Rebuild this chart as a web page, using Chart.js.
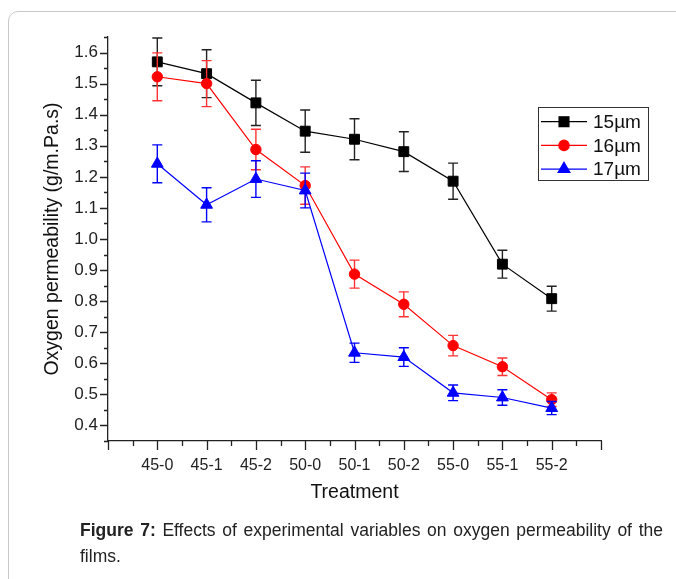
<!DOCTYPE html>
<html>
<head>
<meta charset="utf-8">
<script src="https://cdn.jsdelivr.net/npm/chart.js@4.4.0/dist/chart.umd.min.js"></script>
<style>
html,body{margin:0;padding:0;background:#fff;overflow:hidden;width:676px;height:579px;}
#frame{position:absolute;left:8px;top:11px;width:720px;height:620px;border:1px solid #c9c9c9;border-radius:10px;box-sizing:border-box;}
#wrap{position:absolute;left:0;top:0;width:676px;height:579px;}
.cap{position:absolute;left:80px;width:583px;font-family:"Liberation Sans",Arial,sans-serif;font-size:17.5px;line-height:20px;color:#222;}
#cap1{top:520px;text-align:justify;text-align-last:justify;}
#cap2{top:546px;}
</style>
</head>
<body>
<div id="frame"></div>
<div id="wrap"><canvas id="c" width="676" height="579"></canvas></div>
<div class="cap" id="cap1"><b>Figure 7:</b> Effects of experimental variables on oxygen permeability of the</div>
<div class="cap" id="cap2">films.</div>
<script>
// ---- data ----
const categories = ['45-0','45-1','45-2','50-0','50-1','50-2','55-0','55-1','55-2'];
const seriesNames = ['15µm','16µm','17µm'];
const values15 = [1.570, 1.532, 1.438, 1.347, 1.321, 1.281, 1.186, 0.919, 0.808];
const errors15 = [0.077, 0.077, 0.073, 0.068, 0.066, 0.064, 0.058, 0.045, 0.040];
const values16 = [1.522, 1.500, 1.288, 1.172, 0.887, 0.790, 0.657, 0.589, 0.483];
const errors16 = [0.077, 0.074, 0.065, 0.060, 0.045, 0.040, 0.033, 0.028, 0.022];
const values17 = [1.242, 1.110, 1.193, 1.156, 0.634, 0.620, 0.505, 0.490, 0.456];
const errors17 = [0.061, 0.055, 0.059, 0.056, 0.031, 0.030, 0.025, 0.025, 0.021];
const yTickLabels = ['0.4','0.5','0.6','0.7','0.8','0.9','1.0','1.1','1.2','1.3','1.4','1.5','1.6'];

const FONT = '"Liberation Sans", Arial, sans-serif';
Chart.defaults.font.family = FONT;

function pts(vals){ return vals.map((v,i)=>({x:i+1, y:v})); }

const errPlugin = {
  id:'errbars',
  beforeDatasetDraw(chart, args){
    const ds = chart.data.datasets[args.index];
    const ys = chart.scales.y, ctx = chart.ctx;
    ctx.save();
    ctx.strokeStyle = ds.errColor; ctx.lineWidth = 1.4;
    args.meta.data.forEach((pt,i)=>{
      const v = ds.data[i].y, e = ds.err[i];
      const yt = ys.getPixelForValue(v+e), yb = ys.getPixelForValue(v-e);
      const x = pt.x;
      ctx.beginPath();
      ctx.moveTo(x,yt); ctx.lineTo(x,yb);
      ctx.moveTo(x-5,yt); ctx.lineTo(x+5,yt);
      ctx.moveTo(x-5,yb); ctx.lineTo(x+5,yb);
      ctx.stroke();
    });
    ctx.restore();
  }
};

const tickPlugin = {
  id:'ticksLegend',
  afterDraw(chart){
    const {ctx, scales:{x, y}, chartArea:a} = chart;
    ctx.save();
    ctx.strokeStyle = '#222'; ctx.lineWidth = 1.3;
    ctx.beginPath();
    y.ticks.forEach(t=>{
      const p = Math.round(y.getPixelForValue(t.value))+0.5;
      const major = Math.round(t.value*100)%10===0;
      const len = major?8:4;
      ctx.moveTo(a.left-len,p); ctx.lineTo(a.left,p);
    });
    x.ticks.forEach(t=>{
      const p = Math.round(x.getPixelForValue(t.value))+0.5;
      const major = Math.abs(t.value-Math.round(t.value))<1e-6;
      const len = major?9:5;
      ctx.moveTo(p,a.bottom); ctx.lineTo(p,a.bottom+len);
    });
    ctx.stroke();
    // legend
    ctx.lineWidth = 1; ctx.strokeStyle = '#333';
    ctx.strokeRect(538.5, 107.5, 110, 73);
    ctx.font = '19px ' + FONT;
    ctx.textBaseline = 'middle'; ctx.textAlign = 'left';
    chart.data.datasets.forEach((ds,i)=>{
      const cy = 121.7 + i*23.7;
      ctx.strokeStyle = ds.borderColor; ctx.lineWidth = 1.2;
      ctx.beginPath(); ctx.moveTo(541,cy); ctx.lineTo(587,cy); ctx.stroke();
      ctx.fillStyle = ds.backgroundColor; ctx.strokeStyle = ds.borderColor;
      Chart.helpers.drawPoint(ctx, {pointStyle:ds.pointStyle, radius:ds.pointRadius, borderWidth:1, rotation:0}, 564, cy);
      ctx.fillStyle = '#111';
      ctx.fillText(ds.label, 593, cy+1);
    });
    ctx.restore();
  }
};

new Chart(document.getElementById('c'), {
  type:'line',
  data:{
    datasets:[
      {label:seriesNames[0], data:pts(values15), err:errors15, errColor:'#222', borderColor:'#000', backgroundColor:'#000', pointStyle:'rect', pointRadius:7, pointBorderWidth:1, borderWidth:1.2, order:2},
      {label:seriesNames[1], data:pts(values16), err:errors16, errColor:'#f33', borderColor:'#ff0000', backgroundColor:'#ff0000', pointStyle:'circle', pointRadius:5.2, pointBorderWidth:1, borderWidth:1.2, order:1},
      {label:seriesNames[2], data:pts(values17), err:errors17, errColor:'#0000ff', borderColor:'#0000ff', backgroundColor:'#0000ff', pointStyle:'triangle', pointRadius:6.8, pointBorderWidth:1, borderWidth:1.2, order:0}
    ]
  },
  options:{
    responsive:false, animation:false,
    layout:{padding:{left:0, top:37, right:75, bottom:0}},
    plugins:{legend:{display:false}, tooltip:{enabled:false}},
    scales:{
      x:{
        type:'linear', min:0, max:10,
        afterFit(s){ s.height = 138; },
        grid:{display:false, drawTicks:false},
        border:{display:true, color:'#222', width:1.3},
        ticks:{stepSize:0.5, autoSkip:false, maxRotation:0, minRotation:0, padding:15, color:'#222', font:{size:16},
          callback(v){ const r = Math.round(v); return (Math.abs(v-r)<1e-6 && r>=1 && r<=categories.length) ? categories[r-1] : ''; }},
        title:{display:true, text:'Treatment', color:'#111', font:{size:19.5}, padding:{top:0, bottom:75}}
      },
      y:{
        type:'linear', min:0.35, max:1.65,
        afterFit(s){ s.width = 108; },
        grid:{display:false, drawTicks:false},
        border:{display:true, color:'#222', width:1.3},
        ticks:{stepSize:0.05, autoSkip:false, padding:10, color:'#222', font:{size:17},
          callback(v){ const r = Math.round(v*100); return (r%10===0) ? yTickLabels[(r-40)/10] : ''; }},
        title:{display:true, text:'Oxygen permeability (g/m.Pa.s)', color:'#111', font:{size:19.5}, padding:{top:41, bottom:0}}
      }
    }
  },
  plugins:[errPlugin, tickPlugin]
});
</script>
</body>
</html>
